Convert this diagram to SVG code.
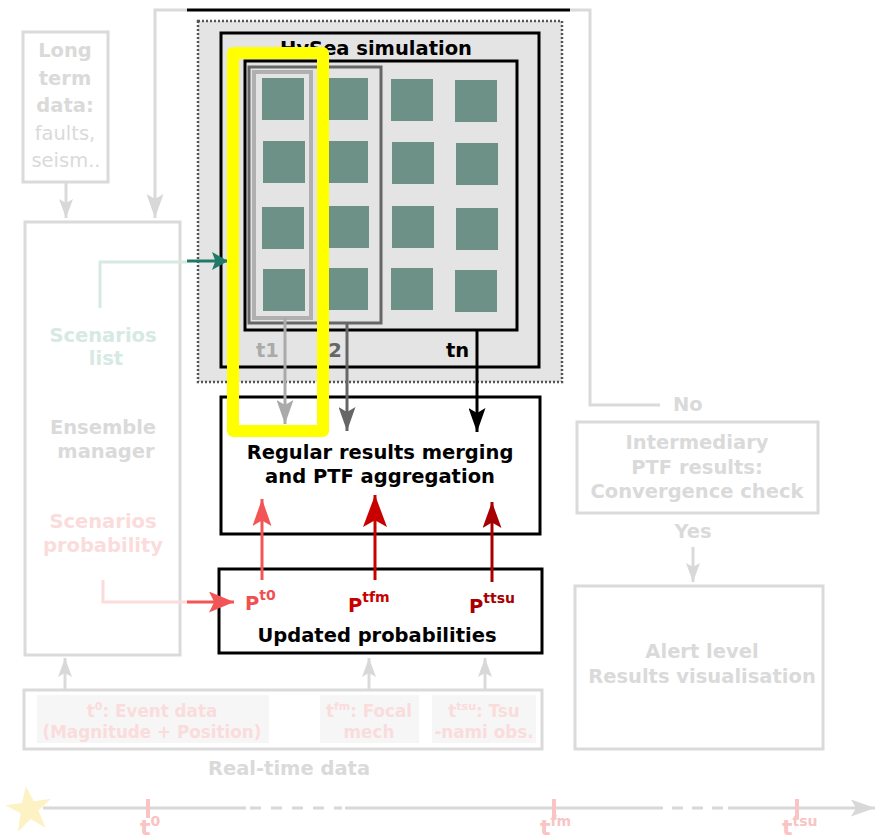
<svg xmlns="http://www.w3.org/2000/svg" width="875" height="839" viewBox="0 0 875 839">
<style>
text{font-family:"DejaVu Sans","Liberation Sans",sans-serif;font-size:19.5px;font-weight:bold}
.n{font-weight:normal}
.c{text-anchor:middle}
.lg{fill:#dadada}
.box{fill:#fff;stroke:#dadada;stroke-width:3}
.blk{fill:#fff;stroke:#000;stroke-width:3}
.sq{fill:#6d9087}
.ln{fill:none;stroke-width:3}
.pk{fill:#fbdcdc}
.rt{font-size:16.8px}
.pkbg{fill:#f6f6f6}
.tick{stroke:#f8c4c4;stroke-width:4}
.tl{fill:#f8c4c4;font-size:22px}
</style>
<defs>
<marker id="aGray" markerUnits="userSpaceOnUse" viewBox="0 0 24 18" markerWidth="24" markerHeight="17" refX="24" refY="9" orient="auto" preserveAspectRatio="none"><path d="M0,0 L24,9 L0,18 L5,9 z" fill="#d8d8d8"/></marker>
<marker id="aGraySm" markerUnits="userSpaceOnUse" viewBox="0 0 24 18" markerWidth="19" markerHeight="14" refX="24" refY="9" orient="auto" preserveAspectRatio="none"><path d="M0,0 L24,9 L0,18 L5,9 z" fill="#d8d8d8"/></marker>
<marker id="aT1" markerUnits="userSpaceOnUse" viewBox="0 0 24 18" markerWidth="24" markerHeight="17" refX="24" refY="9" orient="auto" preserveAspectRatio="none"><path d="M0,0 L24,9 L0,18 L5,9 z" fill="#aaaaaa"/></marker>
<marker id="aT2" markerUnits="userSpaceOnUse" viewBox="0 0 24 18" markerWidth="24" markerHeight="17" refX="24" refY="9" orient="auto" preserveAspectRatio="none"><path d="M0,0 L24,9 L0,18 L5,9 z" fill="#666666"/></marker>
<marker id="aBlk" markerUnits="userSpaceOnUse" viewBox="0 0 24 18" markerWidth="24" markerHeight="17" refX="24" refY="9" orient="auto" preserveAspectRatio="none"><path d="M0,0 L24,9 L0,18 L5,9 z" fill="#000"/></marker>
<marker id="aTeal" markerUnits="userSpaceOnUse" viewBox="0 0 24 18" markerWidth="16" markerHeight="18" refX="24" refY="9" orient="auto" preserveAspectRatio="none"><path d="M0,0 L24,9 L0,18 L5,9 z" fill="#1f7a67"/></marker>
<marker id="aPink" markerUnits="userSpaceOnUse" viewBox="0 0 24 18" markerWidth="25" markerHeight="21" refX="24" refY="9" orient="auto" preserveAspectRatio="none"><path d="M0,0 L24,9 L0,18 L5,9 z" fill="#f25555"/></marker>
<marker id="aP0" markerUnits="userSpaceOnUse" viewBox="0 0 24 18" markerWidth="27" markerHeight="19" refX="24" refY="9" orient="auto" preserveAspectRatio="none"><path d="M0,0 L24,9 L0,18 L5,9 z" fill="#f25555"/></marker>
<marker id="aPfm" markerUnits="userSpaceOnUse" viewBox="0 0 24 18" markerWidth="32" markerHeight="24" refX="24" refY="9" orient="auto" preserveAspectRatio="none"><path d="M0,0 L24,9 L0,18 L5,9 z" fill="#c80000"/></marker>
<marker id="aPtsu" markerUnits="userSpaceOnUse" viewBox="0 0 24 18" markerWidth="26" markerHeight="19" refX="24" refY="9" orient="auto" preserveAspectRatio="none"><path d="M0,0 L24,9 L0,18 L5,9 z" fill="#a80000"/></marker>
</defs>
<rect width="875" height="839" fill="#fff"/>

<g id="longterm">
<rect class="box" x="23" y="32" width="85" height="150"/>
<text class="c lg" x="65" y="57">Long</text>
<text class="c lg" x="65" y="85">term</text>
<text class="c lg" x="65" y="112">data:</text>
<text class="c lg n" x="65" y="140">faults,</text>
<text class="c lg n" x="66" y="167">seism..</text>
</g>

<g id="ensemble">
<rect class="box" x="25" y="222" width="155" height="433"/>
<text class="c" x="103" y="342" fill="#d6e9e3">Scenarios</text>
<text class="c" x="106" y="365" fill="#d6e9e3">list</text>
<text class="c lg" x="103" y="434">Ensemble</text>
<text class="c lg" x="106" y="458">manager</text>
<text class="c pk" x="103" y="528">Scenarios</text>
<text class="c pk" x="103" y="552">probability</text>
</g>

<g id="hysea">
<rect x="198" y="21" width="364" height="361" fill="#e4e4e4" stroke="#555" stroke-width="2.5" stroke-dasharray="2 2"/>
<rect x="221" y="33" width="318" height="334" fill="#e4e4e4" stroke="#000" stroke-width="3"/>
<text class="c" x="376" y="55">HySea simulation</text>
<rect x="245" y="61" width="272" height="269" fill="#e4e4e4" stroke="#000" stroke-width="3"/>
<rect x="249" y="67" width="132" height="256" fill="none" stroke="#666" stroke-width="3"/>
<rect x="254" y="72" width="57" height="246" fill="none" stroke="#b0b0b0" stroke-width="4"/>
<g class="sq">
<rect x="262" y="78" width="42" height="42"/><rect x="326" y="78" width="42" height="42"/><rect x="391" y="79" width="42" height="42"/><rect x="455" y="80" width="42" height="42"/>
<rect x="263" y="141" width="42" height="42"/><rect x="326" y="141" width="42" height="42"/><rect x="392" y="142" width="42" height="42"/><rect x="456" y="143" width="42" height="42"/>
<rect x="262" y="207" width="42" height="42"/><rect x="327" y="206" width="42" height="42"/><rect x="392" y="206" width="42" height="42"/><rect x="456" y="208" width="42" height="42"/>
<rect x="263" y="269" width="42" height="42"/><rect x="326" y="268" width="42" height="42"/><rect x="391" y="268" width="42" height="42"/><rect x="455" y="270" width="42" height="42"/>
</g>
<text x="256" y="357" fill="#aaaaaa">t1</text>
<text x="319" y="357" fill="#666666">t2</text>
<text x="446" y="357" fill="#000">tn</text>
</g>

<g id="merging">
<rect class="blk" x="221" y="397" width="319" height="137"/>
<text class="c" x="380" y="459">Regular results merging</text>
<text class="c" x="380" y="483">and PTF aggregation</text>
</g>

<g id="updated">
<rect class="blk" x="219" y="569" width="323" height="84"/>
<text x="245" y="610" fill="#f05050" font-size="23">P<tspan font-size="14" dy="-10">t0</tspan></text>
<text x="348" y="612" fill="#c80000" font-size="23">P<tspan font-size="14" dy="-10">tfm</tspan></text>
<text x="469" y="613" fill="#a80000" font-size="23">P<tspan font-size="14" dy="-10">ttsu</tspan></text>
<text class="c" x="377" y="642">Updated probabilities</text>
</g>

<g id="intermediary">
<rect class="box" x="577" y="422" width="241" height="91"/>
<text class="c lg" x="697" y="449">Intermediary</text>
<text class="c lg" x="697" y="474">PTF results:</text>
<text class="c lg" x="697" y="498">Convergence check</text>
</g>

<g id="alert">
<rect class="box" x="575" y="586" width="248" height="163"/>
<text class="c lg" x="702" y="658">Alert level</text>
<text class="c lg" x="702" y="683">Results visualisation</text>
</g>

<g id="realtime">
<rect class="box" x="24" y="690" width="518" height="59"/>
<rect class="pkbg" x="37" y="695" width="232" height="48"/>
<rect class="pkbg" x="320" y="695" width="99" height="48"/>
<rect class="pkbg" x="432" y="695" width="104" height="48"/>
<text class="c pk rt" x="152" y="717">t<tspan font-size="11" dy="-7">0</tspan><tspan dy="7">: Event data</tspan></text>
<text class="c pk rt" x="152" y="738">(Magnitude + Position)</text>
<text class="c pk rt" x="369" y="717">t<tspan font-size="11" dy="-7">fm</tspan><tspan dy="7">: Focal</tspan></text>
<text class="c pk rt" x="369" y="738">mech</text>
<text class="c pk rt" x="484" y="717">t<tspan font-size="11" dy="-7">tsu</tspan><tspan dy="7">: Tsu</tspan></text>
<text class="c pk rt" x="484" y="738">-nami obs.</text>
<text class="c lg" x="289" y="775">Real-time data</text>
</g>

<g id="timeline">
<polygon points="29,786 35,802 52,802 38,812 43,830 29,819 15,830 20,812 6,802 23,802" fill="#fdf2c4" transform="rotate(-8 29 809)"/>
<g stroke="#d8d8d8" stroke-width="3" fill="none">
<line x1="43" y1="808" x2="246" y2="808"/>
<line x1="250" y1="808" x2="342" y2="808" stroke-dasharray="11 10"/>
<line x1="345" y1="808" x2="652" y2="808"/>
<line x1="652" y1="808" x2="724" y2="808" stroke-dasharray="11 9"/>
<line x1="728" y1="808" x2="875" y2="808" marker-end="url(#aGray)"/>
</g>
<line class="tick" x1="148" y1="799" x2="148" y2="818"/>
<line class="tick" x1="554" y1="799" x2="554" y2="818"/>
<line class="tick" x1="797" y1="799" x2="797" y2="818"/>
<text class="tl" x="140" y="835">t<tspan font-size="14" dy="-9">0</tspan></text>
<text class="tl" x="540" y="835">t<tspan font-size="14" dy="-9">fm</tspan></text>
<text class="tl" x="782" y="835">t<tspan font-size="14" dy="-9">tsu</tspan></text>
</g>

<g id="connectors">
<polyline class="ln" stroke="#dadada" points="660,405 590,405 590,10 570,10"/>
<line class="ln" stroke="#000" x1="570" y1="10" x2="187" y2="10"/>
<polyline class="ln" stroke="#dadada" points="187,10 155,10 155,218" marker-end="url(#aGray)"/>
<line class="ln" stroke="#dadada" x1="66" y1="182" x2="66" y2="218" marker-end="url(#aGraySm)"/>
<polyline class="ln" stroke="#d6e9e3" points="100,308 100,262 187,262"/>
<line class="ln" stroke="#1f7a67" x1="187" y1="261" x2="228" y2="261" marker-end="url(#aTeal)"/>
<polyline class="ln" stroke="#fbdcdc" points="103,580 103,602 187,602"/>
<line class="ln" stroke="#f25555" x1="187" y1="602" x2="234" y2="602" marker-end="url(#aPink)"/>
<line class="ln" stroke="#aaaaaa" x1="285" y1="318" x2="285" y2="424" marker-end="url(#aT1)"/>
<line class="ln" stroke="#666666" x1="347" y1="324" x2="347" y2="431" marker-end="url(#aT2)"/>
<line class="ln" stroke="#000" x1="477" y1="331" x2="477" y2="432" marker-end="url(#aBlk)"/>
<line class="ln" stroke="#f25555" x1="262" y1="580" x2="262" y2="499" marker-end="url(#aP0)"/>
<line class="ln" stroke="#c80000" x1="375" y1="580" x2="375" y2="495" marker-end="url(#aPfm)"/>
<line class="ln" stroke="#a80000" x1="492" y1="582" x2="492" y2="502" marker-end="url(#aPtsu)"/>
<line class="ln" stroke="#dadada" x1="693" y1="547" x2="693" y2="582" marker-end="url(#aGraySm)"/>
<line class="ln" stroke="#dadada" x1="65" y1="690" x2="65" y2="658" marker-end="url(#aGraySm)"/>
<line class="ln" stroke="#dadada" x1="369" y1="690" x2="369" y2="658" marker-end="url(#aGraySm)"/>
<line class="ln" stroke="#dadada" x1="485" y1="690" x2="485" y2="658" marker-end="url(#aGraySm)"/>
<text class="lg" x="673" y="411">No</text>
<text class="c lg" x="693" y="538">Yes</text>
</g>

<g id="highlight">
<rect x="233" y="53" width="90" height="378" fill="none" stroke="#ffff00" stroke-width="12" stroke-linejoin="round"/>
</g>
</svg>
